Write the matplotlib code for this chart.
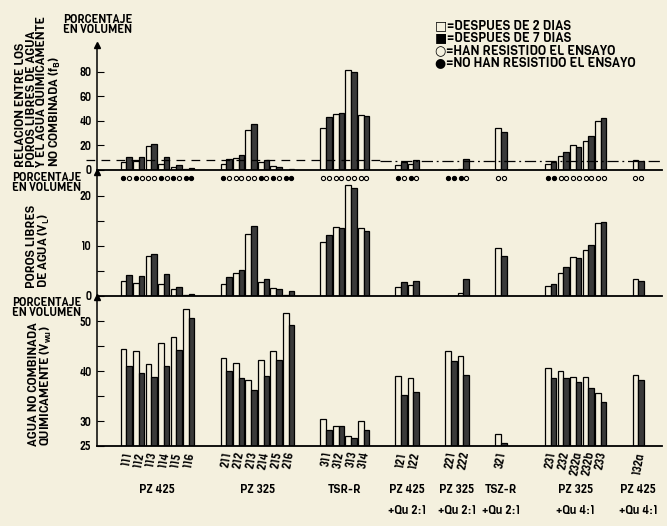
import numpy as np
import matplotlib
matplotlib.use("Agg")
import matplotlib.pyplot as plt
from matplotlib import font_manager

# --- data ---
group_names = ["PZ 425", "PZ 325", "TSR-R", "PZ 425", "PZ 325", "TSZ-R", "PZ 325", "PZ 425"]
group_mix = ["", "", "", "+Qu 2:1", "+Qu 2:1", "+Qu 2:1", "+Qu 4:1", "+Qu 4:1"]
group_samples = [
    ["111", "112", "113", "114", "115", "116"],
    ["211", "212", "213", "214", "215", "216"],
    ["311", "312", "313", "314"],
    ["121", "122"],
    ["221", "222"],
    ["321"],
    ["231", "232", "232a", "232b", "233"],
    ["132a"],
]

# f_B relation (%)
fb_2d = [6.3, 7.3, 19.8, 4.9, 2.4, 1.1, 4.6, 10.0, 32.9, 6.3, 3.3, 0.3, 34.6, 45.4, 81.6, 44.6,
         3.8, 4.9, 0, 0.8, 34.3, 4.9, 11.2, 20.7, 23.4, 39.8, 8.2]
fb_7d = [10.4, 10.9, 21.2, 10.9, 4.4, 1.6, 9.3, 12.2, 37.6, 8.2, 2.7, 0.8, 43.0, 46.3, 80.3, 44.3,
         6.5, 7.9, 0, 9.2, 31.0, 6.5, 14.7, 18.5, 27.5, 42.4, 7.1]
fb_limit = 8.5

# V_L free pores (%)
vl_2d = [3.1, 2.7, 8.0, 2.5, 1.4, 0.3, 2.4, 4.7, 12.4, 2.9, 1.7, 0.2, 10.9, 13.9, 22.2, 13.7,
         1.8, 2.3, 0, 0.7, 9.6, 2.1, 4.7, 7.9, 9.2, 14.6, 3.5]
vl_7d = [4.3, 4.1, 8.5, 4.5, 1.9, 0.5, 3.8, 5.3, 14.0, 3.4, 1.4, 1.1, 12.3, 13.7, 21.7, 13.1,
         2.8, 3.1, 0, 3.5, 8.1, 2.4, 5.8, 7.6, 10.3, 14.9, 3.0]

# V_wu non-combined water (%)
vwu_2d = [44.5, 44.0, 41.5, 45.7, 46.9, 52.4, 42.7, 41.7, 38.2, 42.2, 44.0, 51.7, 30.5, 29.1, 27.0, 30.0,
          39.1, 38.7, 44.0, 43.1, 27.5, 40.6, 40.0, 38.9, 38.9, 35.7, 39.3]
vwu_7d = [41.0, 39.7, 38.9, 41.0, 44.2, 50.7, 40.1, 38.7, 36.3, 39.0, 42.2, 49.3, 28.2, 29.1, 26.6, 28.3,
          35.2, 35.9, 42.1, 39.3, 25.6, 38.7, 38.7, 37.9, 36.6, 33.9, 38.3]

# 1 = resisted the test (open circle), 0 = did not (filled)
resist_2d = [0, 0, 1, 0, 0, 0, 0, 1, 1, 0, 0, 0, 1, 1, 1, 1, 0, 0, 0, 0, 1, 0, 1, 1, 1, 1, 1]
resist_7d = [1, 1, 1, 1, 1, 0, 1, 1, 1, 1, 1, 0, 1, 1, 1, 1, 1, 1, 0, 1, 1, 0, 1, 1, 1, 1, 1]

# layout: slot where every group starts
group_start = [0, 8, 16, 22, 26, 30, 34, 41]

legend_lines = ["\u25a1=DESPUES DE 2 DIAS", "\u25a0=DESPUES DE 7 DIAS",
                "\u25cb=HAN RESISTIDO EL ENSAYO", "\u25cf=NO HAN RESISTIDO EL ENSAYO"]

paper = '#f4f0de'
dark = '#3a3a3a'
bw = 0.45

fig = plt.figure(figsize=(6.67, 5.26), dpi=100, facecolor=paper)
renderer = fig.canvas.get_renderer()

# pick a regular-weight sans whose width is closest to the scan's narrow lettering
def wnum(w):
    if isinstance(w, (int, float)):
        return w
    return {'normal': 400, 'regular': 400, 'book': 400, 'medium': 500}.get(str(w).lower(), 0)

cands = set()
for f in font_manager.fontManager.ttflist:
    if 'Mono' in f.name or 'CJK' in f.name or 'Serif' in f.name or f.style != 'normal':
        continue
    if 400 <= wnum(f.weight) <= 500:
        cands.add((f.name, str(f.stretch)))

best = None
for n, st in sorted(cands):
    t = fig.text(0, 0, legend_lines[3][2:], family=n, stretch=st, fontsize=10)
    w = t.get_window_extent(renderer).width
    t.remove()
    score = abs(w - 195)
    if best is None or score < best[0]:
        best = (score, n, st)
font, stretch = best[1], best[2]
plt.rcParams['font.family'] = [font, 'DejaVu Sans']
plt.rcParams['font.stretch'] = stretch
plt.rcParams['mathtext.fontset'] = 'custom'
plt.rcParams['mathtext.rm'] = font
plt.rcParams['mathtext.it'] = font + ':italic'


def size_for(s, target, maxsize, **kw):
    t = fig.text(0, 0, s, fontsize=10, **kw)
    w = t.get_window_extent(renderer).width
    t.remove()
    return min(maxsize, 10 * target / w)


W, H = 667, 526
def axrect(x0, x1, ytop, ybot):
    return [x0 / W, 1 - ybot / H, (x1 - x0) / W, (ybot - ytop) / H]

ax_fb = fig.add_axes(axrect(97, 662, 45, 170))
ax_vl = fig.add_axes(axrect(97, 662, 172, 296))
ax_vw = fig.add_axes(axrect(97, 662, 297, 446))

slots = []
labels = []
for start, samp in zip(group_start, group_samples):
    for i, s in enumerate(samp):
        slots.append(start + i)
        labels.append(s)
slots = np.array(slots, dtype=float)

panels = [
    (ax_fb, fb_2d, fb_7d, (0, 102), [0, 20, 40, 60, 80], ["0", "20", "40", "60", "80"]),
    (ax_vl, vl_2d, vl_7d, (0, 24.8), [0, 5, 10, 15, 20], ["0", "", "10", "", "20"]),
    (ax_vw, vwu_2d, vwu_7d, (25, 54.8), [25, 30, 35, 40, 45, 50], ["25", "30", "", "40", "", "50"]),
]

tsize = size_for("80", 12, 13, fontstyle='italic')
for ax, v2, v7, ylim, ticks, tlabels in panels:
    base = ylim[0]
    ax.set_facecolor('none')
    ax.bar(slots + 0.05, np.array(v2) - base, width=bw, bottom=base, align='edge',
           color=paper, edgecolor='black', linewidth=0.9)
    ax.bar(slots + 0.05 + bw, np.array(v7) - base, width=bw, bottom=base, align='edge',
           color=dark, edgecolor='black', linewidth=0.9)
    ax.set_xlim(-1.84, 43.4)
    ax.set_ylim(*ylim)
    ax.set_yticks(ticks)
    ax.set_yticklabels(tlabels, fontstyle='italic', fontsize=tsize)
    ax.tick_params(axis='y', direction='in', length=5, width=0.8, pad=4)
    ax.set_xticks([])
    for sp in ['top', 'right']:
        ax.spines[sp].set_visible(False)
    ax.spines['left'].set_linewidth(1.1)
    ax.spines['bottom'].set_linewidth(1.3)
    ax.plot(0, 1, marker='^', color='black', markersize=5, transform=ax.transAxes, clip_on=False)

# limit line in the f_B panel
ax_fb.axhline(fb_limit, xmin=-0.02, xmax=0.5, color='black', lw=0.9, ls=(0, (7, 5)), clip_on=False)
ax_fb.axhline(fb_limit - 1, xmin=0.5, xmax=1.0, color='black', lw=0.9, ls=(0, (9, 3, 1.5, 3)))

# resistance circles below the f_B panel
for k, s in enumerate(slots):
    for off, r in ((0.05 + bw / 2, resist_2d[k]), (0.05 + 1.5 * bw, resist_7d[k])):
        ax_fb.scatter(s + off, -6.2, s=9, marker='o', clip_on=False, linewidths=0.8,
                      facecolors=paper if r else 'black', edgecolors='black', zorder=5)

# sample labels and group names
tr = ax_vw.get_xaxis_transform()
for s, lab in zip(slots, labels):
    ax_vw.text(s + 0.5, -0.03, lab, transform=tr, rotation=80, ha='center', va='top',
               fontsize=8, fontstyle='italic')
gsize = size_for("PZ 425", 36, 13, fontstyle='italic')
for start, samp, name, mix in zip(group_start, group_samples, group_names, group_mix):
    cx = start + len(samp) / 2
    ax_vw.text(cx, -0.29, name, transform=tr, ha='center', va='center', fontsize=gsize,
               fontstyle='italic')
    if mix:
        ax_vw.text(cx, -0.435, mix, transform=tr, ha='center', va='center', fontsize=gsize,
                   fontstyle='italic')

# left side titles
psize = size_for("EN VOLUMEN", 68, 12)
fig.text(63 / W, 1 - 14 / H, "PORCENTAJE\nEN VOLUMEN", ha='left', va='top', fontsize=psize,
         linespacing=0.85)
fig.text(12 / W, 1 - 172 / H, "PORCENTAJE\nEN VOLUMEN", ha='left', va='top', fontsize=psize,
         linespacing=0.85)
fig.text(12 / W, 1 - 297 / H, "PORCENTAJE\nEN VOLUMEN", ha='left', va='top', fontsize=psize,
         linespacing=0.85)

rsize = size_for("Y EL AGUA QUIMICAMENTE", 150, 12.5)
fig.text(39 / W, 1 - 92 / H, "RELACION ENTRE LOS\nPOROS LIBRES DE AGUA\nY EL AGUA QUIMICAMENTE\n"
         "NO COMBINADA (f$_\\mathrm{B}$)", rotation=90, ha='center', va='center',
         multialignment='left', fontsize=rsize, linespacing=0.95)
fig.text(39 / W, 1 - 246 / H, "POROS LIBRES\nDE AGUA (V$_\\mathrm{L}$)", rotation=90,
         ha='center', va='center', multialignment='left', fontsize=rsize, linespacing=0.95)
fig.text(41 / W, 1 - 384 / H, "AGUA NO COMBINADA\nQUIMICAMENTE (V$_\\mathrm{wu}$)", rotation=90,
         ha='center', va='center', multialignment='left', fontsize=rsize, linespacing=0.95)

# legend
lsize = size_for(legend_lines[3], 200, 11)
for i, line in enumerate(legend_lines):
    fig.text(435 / W, 1 - (25 + 12.5 * i) / H, line, ha='left', va='center', fontsize=lsize)

fig.savefig("out.png", dpi=100, facecolor=paper)
